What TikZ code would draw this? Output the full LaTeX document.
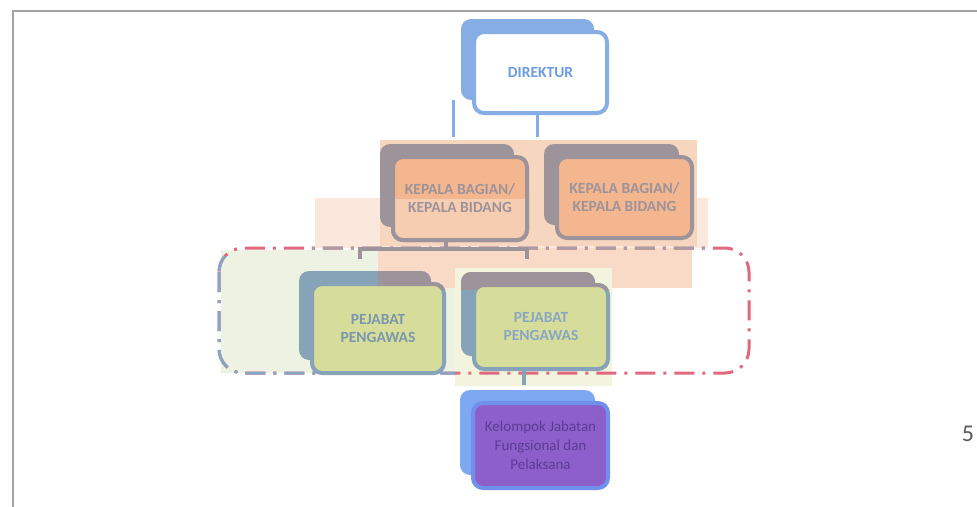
\documentclass[tikz,border=0pt]{standalone}
\usepackage{fontspec}
\setmainfont{Carlito}
\usetikzlibrary{calc}

\definecolor{framegray}{HTML}{A3A3A3}
\definecolor{dirblue}{HTML}{86AEE4}
\definecolor{dirtext}{HTML}{6E9CE2}
\definecolor{mauve}{HTML}{9D939B}
\definecolor{kfill}{HTML}{F4B68E}
\definecolor{kfilllight}{HTML}{F6CDB1}
\definecolor{peachA}{HTML}{F7D6C0}
\definecolor{peachB}{HTML}{FAE8DC}
\definecolor{peachC}{HTML}{F8DAC7}
\definecolor{greenA}{HTML}{EEF2E2}
\definecolor{greenB}{HTML}{F2F4DE}
\definecolor{pjblue}{HTML}{86A3B8}
\definecolor{pjfill}{HTML}{D6DD9A}
\definecolor{pjtext}{HTML}{8AA6C4}
\definecolor{pjtextdark}{HTML}{7C96AE}
\definecolor{dashpink}{HTML}{E0687F}
\definecolor{dashblue}{HTML}{89A5C4}
\definecolor{dashmauve}{HTML}{A99CA3}
\definecolor{purfill}{HTML}{8C5FCB}
\definecolor{purborder}{HTML}{7090EC}
\definecolor{purback}{HTML}{7EA8F2}
\definecolor{purtext}{HTML}{5C3D96}
\definecolor{pagenum}{HTML}{5A5A5A}

\pgfdeclarelayer{tint}
\pgfdeclarelayer{back}
\pgfsetlayers{tint,back,main}

\tikzset{
  box/.style={draw, line width=4pt, rounded corners=10pt, inner sep=0pt,
    outer sep=0pt, align=center, font=\bfseries\fontsize{15.5}{18}\selectfont},
  boxtext/.style={inner sep=0pt, align=center, font=\bfseries\fontsize{15.5}{18}\selectfont},
  backbox/.style={rounded corners=10pt},
  dline/.style={dirblue, line width=3pt},
  kline/.style={mauve, line width=4pt},
  pline/.style={pjblue, line width=4pt},
  dashdot/.style={line width=3pt, rounded corners=24pt,
    dash pattern=on 20pt off 8pt on 3pt off 8pt},
}

% back panel of a box: same size, moved 13 units up and left
\newcommand{\backpanel}[2]{%
  \fill[backbox,#2] ($(#1.north west)+(-13,-13)$) rectangle ($(#1.south east)+(-13,-13)$);}
% outline of a box, redrawn over it
\newcommand{\boxoutline}[3]{%
  \filldraw[line width=4pt, rounded corners=10pt, draw=#2, fill=#3]
    (#1.north west) rectangle (#1.south east);}

\begin{document}
\begin{tikzpicture}[x=1pt,y=-1pt]
\useasboundingbox (0,0) rectangle (977,506);

% page number
\node[font=\fontsize{24}{24}\selectfont, text=pagenum] (pnum) at (968,434) {5};

\begin{pgfonlayer}{tint}
  \fill[white] (0,0) rectangle (977,506);
  % slide frame
  \draw[framegray, line width=2pt] (13,510) -- (13,11) -- (980,11);

  % tinted background areas
  \fill[peachB] (315,198) rectangle (708,248);
  \fill[peachA] (380,140) rectangle (697,246);
  \fill[peachC] (378,248) rectangle (692,288);
  \fill[greenA] (221,250) rectangle (378,373);
  \fill[greenA] (378,288) rectangle (455,373);
  \fill[greenB] (455,268) rectangle (612,386);

  % dash-dot group outline
  \draw[dashdot, dashpink] (219,248) rectangle (749,373);
  \begin{scope}
    \clip (200,256) rectangle (455,390);
    \draw[dashdot, dashblue] (219,248) rectangle (749,373);
  \end{scope}
  \begin{scope}
    \clip (306,238) rectangle (712,258);
    \draw[dashdot, dashmauve] (219,248) rectangle (749,373);
  \end{scope}
\end{pgfonlayer}

% boxes
\node[box, draw=dirblue, fill=white, text=dirtext,
  minimum width=133, minimum height=81] (dir) at (540.5,72.5) {DIREKTUR};
\node[box, draw=mauve, fill=kfill,
  minimum width=134, minimum height=83] (kb1) at (460,198.5) {};
\node[box, draw=mauve, fill=kfill, text=mauve,
  minimum width=135, minimum height=81] (kb2) at (624.5,197.5) {KEPALA BAGIAN/\\KEPALA BIDANG};
\node[box, draw=pjblue, fill=pjfill, text=pjtextdark,
  minimum width=132, minimum height=89] (pj1) at (378,328.5) {PEJABAT\\PENGAWAS};
\node[box, draw=pjblue, fill=pjfill, text=pjtext,
  minimum width=134, minimum height=84] (pj2) at (541,327) {PEJABAT\\PENGAWAS};
\node[box, draw=purborder, fill=purfill, text=purtext,
  font=\fontsize{15}{19}\selectfont,
  minimum width=135, minimum height=85] (kel) at (540.5,445.5)
  {Kelompok Jabatan\\Fungsional dan\\Pelaksana};

% back panels behind the boxes
\begin{pgfonlayer}{back}
  \backpanel{dir}{dirblue}
  \backpanel{kb1}{mauve}
  \backpanel{kb2}{mauve}
  \backpanel{pj1}{pjblue}
  \backpanel{pj2}{pjblue}
  \backpanel{kel}{purback}
\end{pgfonlayer}

% lower half of the first head box in a lighter tone
\begin{scope}
  \clip (380,199) rectangle (540,250);
  \boxoutline{kb1}{mauve}{kfilllight}
\end{scope}
\node[boxtext, text=mauve] (kb1txt) at (kb1.center) {KEPALA BAGIAN/\\KEPALA BIDANG};

% upper strip of the supervisor boxes in the tinted tone
\begin{scope}
  \clip (378,240) rectangle (712,289);
  \backpanel{pj1}{mauve}
  \backpanel{pj2}{mauve}
  \boxoutline{pj1}{mauve}{pjfill}
  \boxoutline{pj2}{mauve}{pjfill}
\end{scope}

% connectors
\coordinate (dstub top) at (453,100);
\coordinate (dstub bot) at (453,137);
\draw[dline] (dstub top) -- (dstub bot);
\draw[dline] ($(dir.south)+(-3,0)$) -- ++(0,24);

\coordinate (kjoin) at ($(kb1.south)+(-14,9)$);
\coordinate (kdrop l) at (360,259);
\coordinate (kdrop r) at (527,259);
\draw[kline] ($(kb1.south)+(-14,0)$) -- (kjoin);
\draw[kline] (kdrop l) |- (kjoin) -| (kdrop r);

\draw[pline] ($(pj2.south)+(-17,0)$) -- ++(0,16);

\end{tikzpicture}
\end{document}
